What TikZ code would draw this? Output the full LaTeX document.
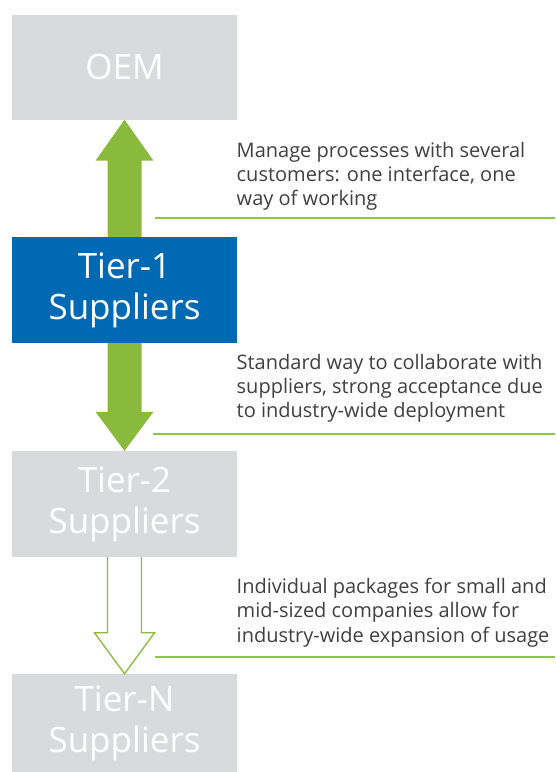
\documentclass[tikz,border=0pt]{standalone}
\usepackage{fontspec}
\setmainfont{Open Sans}
\usetikzlibrary{calc}
\definecolor{boxgray}{RGB}{217,218,219}
\definecolor{boxblue}{RGB}{0,105,180}
\definecolor{agreen}{RGB}{138,186,60}
\definecolor{lgreen}{RGB}{141,198,63}
\definecolor{txtgray}{RGB}{64,64,64}
\tikzset{
  tierbox/.style={rectangle, inner sep=0pt, minimum width=225pt, text=white, align=center,
    font=\fontsize{35}{41}\selectfont},
  desc/.style={anchor=base west, inner sep=0pt, text=txtgray, font=\fontsize{20}{24}\selectfont},
  sepline/.style={draw=lgreen, line width=1.5pt},
  solidarrow/.style={fill=agreen},
  hollowarrow/.style={draw=agreen, line width=1.3pt, fill=white, line join=miter}
}
\begin{document}
\begin{tikzpicture}[x=1pt,y=-1pt]
\useasboundingbox[fill=white] (0,0) rectangle (555,772);
\node[tierbox, fill=boxgray, minimum height=105pt] (oem) at (124.5,67) {OEM};
\node[tierbox, fill=boxblue, minimum height=106pt] (t1) at (124.5,290) {Tier-1\\Suppliers};
\node[tierbox, fill=boxgray, minimum height=106pt] (t2) at (124.5,504) {Tier-2\\Suppliers};
\node[tierbox, fill=boxgray, minimum height=98pt] (tn) at (124.5,723) {Tier-N\\Suppliers};
% up arrow Tier-1 -> OEM
\fill[solidarrow] ($(t1.north)+(-17,0)$) -- ($(oem.south)+(-17,41)$) -- ($(oem.south)+(-29,41)$)
  -- (oem.south) -- ($(oem.south)+(29,41)$) -- ($(oem.south)+(17,41)$) -- ($(t1.north)+(17,0)$) -- cycle;
% down arrow Tier-1 -> Tier-2
\fill[solidarrow] ($(t1.south)+(-17,0)$) -- ($(t2.north)+(-17,-39)$) -- ($(t2.north)+(-29,-39)$)
  -- (t2.north) -- ($(t2.north)+(29,-39)$) -- ($(t2.north)+(17,-39)$) -- ($(t1.south)+(17,0)$) -- cycle;
% hollow arrow Tier-2 -> Tier-N
\draw[hollowarrow] ($(t2.south)+(-17,0)$) -- ($(tn.north)+(-17,-41)$) -- ($(tn.north)+(-30,-41)$)
  -- (tn.north) -- ($(tn.north)+(30,-41)$) -- ($(tn.north)+(17,-41)$) -- ($(t2.south)+(17,0)$);
% separator lines
\coordinate (l1a) at (155,218); \coordinate (l1b) at (555,218);
\coordinate (l2a) at (153,434); \coordinate (l2b) at (555,434);
\coordinate (l3a) at (155,657); \coordinate (l3b) at (555,657);
\draw[sepline] (l1a) -- (l1b);
\draw[sepline] (l2a) -- (l2b);
\draw[sepline] (l3a) -- (l3b);
% descriptions
\node[desc] (d1a) at (236.5,157) {Manage processes with several};
\node[desc] (d1b) at (236.5,181) {customers: one interface, one};
\node[desc] (d1c) at (236.5,205) {way of working};
\node[desc] (d2a) at (236.5,369) {Standard way to collaborate with};
\node[desc] (d2b) at (236.5,393) {suppliers, strong acceptance due};
\node[desc] (d2c) at (236.5,417) {to industry-wide deployment};
\node[desc] (d3a) at (236.5,593) {Individual packages for small and};
\node[desc] (d3b) at (236.5,617) {mid-sized companies allow for};
\node[desc] (d3c) at (236.5,642) {industry-wide expansion of usage};
\end{tikzpicture}
\end{document}
